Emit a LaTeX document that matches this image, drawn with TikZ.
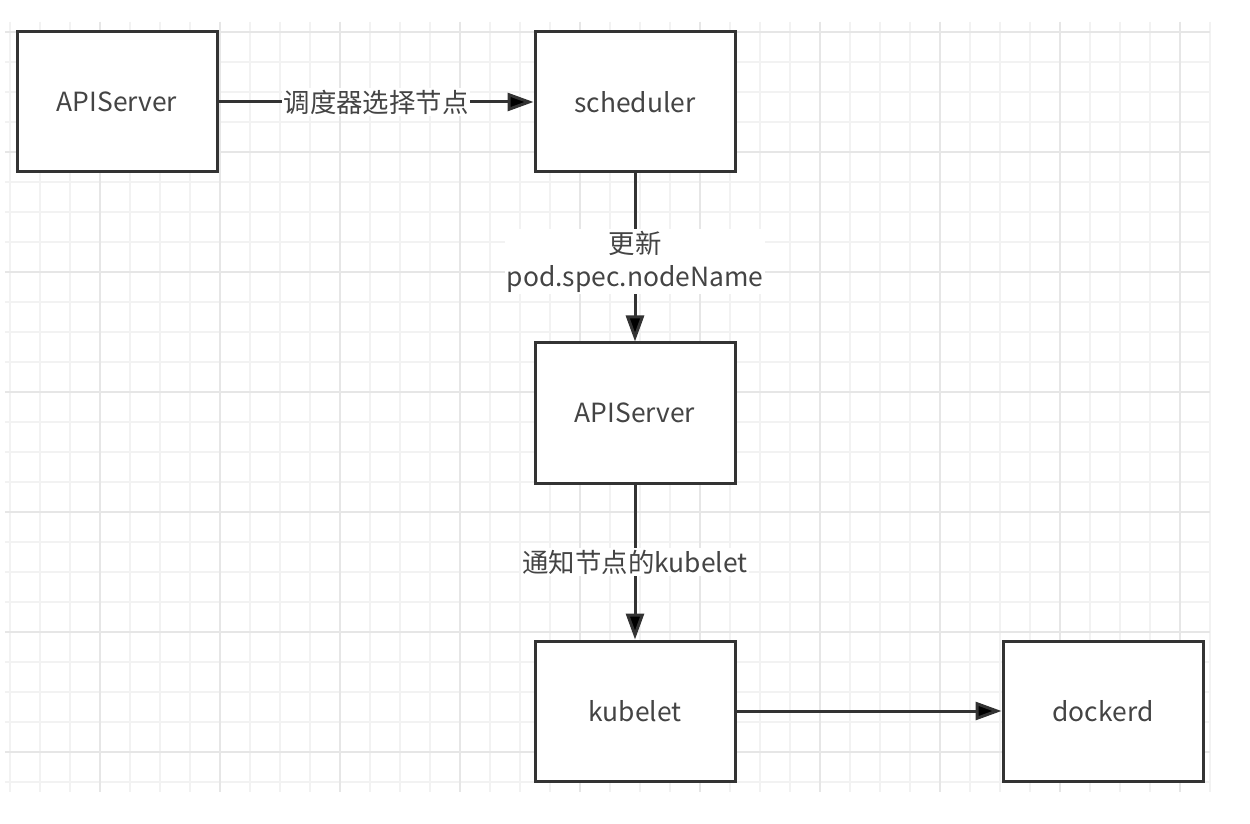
\documentclass[tikz,border=0pt]{standalone}
\usepackage{fontspec}
\setmainfont{Noto Sans CJK SC}
\usetikzlibrary{arrows.meta}
\definecolor{inkgray}{HTML}{333333}
\definecolor{textgray}{HTML}{444444}
\definecolor{gridminor}{HTML}{F2F2F2}
\definecolor{gridmajor}{HTML}{E6E6E6}
\tikzset{
  box/.style={shape=rectangle,draw=inkgray,line width=1.5pt,fill=white,
    minimum width=100pt,minimum height=70pt,text=textgray,
    font=\fontsize{13.2pt}{16.5pt}\selectfont},
  lbl/.style={fill=white,text=textgray,align=center,inner sep=1pt,
    font=\fontsize{13.2pt}{16.5pt}\selectfont},
  link/.style={draw=inkgray,line width=1.5pt,-{Triangle[length=13pt,width=9pt]}}
}
\begin{document}
\begin{tikzpicture}[x=0.5pt,y=-0.5pt]
    \useasboundingbox[fill=white] (0,0) rectangle (1250,824);
    % grid
    \foreach \gx in {10,40,...,1210}
      \draw[gridminor,line width=0.6pt] (\gx,22) -- (\gx,792);
    \foreach \gy in {32,62,...,782}
      \draw[gridminor,line width=0.6pt] (5,\gy) -- (1210,\gy);
    \foreach \gx in {100,220,...,1180}
      \draw[gridmajor,line width=0.6pt] (\gx,22) -- (\gx,792);
    \foreach \gy in {32,152,...,752}
      \draw[gridmajor,line width=0.6pt] (5,\gy) -- (1210,\gy);
    % boxes
    \node[box] (api) at (117,102) {APIServer};
    \node[box] (sched) at (635,102) {scheduler};
    \node[box] (api2) at (635,413) {APIServer};
    \node[box] (kubelet) at (635,711) {kubelet};
    \node[box] (dockerd) at (1103,711) {dockerd};
    % arrows
    \path [link](api) edge node[lbl] {调度器选择节点} (sched);
    \path [link](sched) edge node[lbl,yshift=-2pt] {更新\\pod.spec.nodeName} (api2);
    \path [link](api2) edge node[lbl] {通知节点的kubelet} (kubelet);
    \path [link](kubelet) edge (dockerd);
  \end{tikzpicture}
\end{document}
